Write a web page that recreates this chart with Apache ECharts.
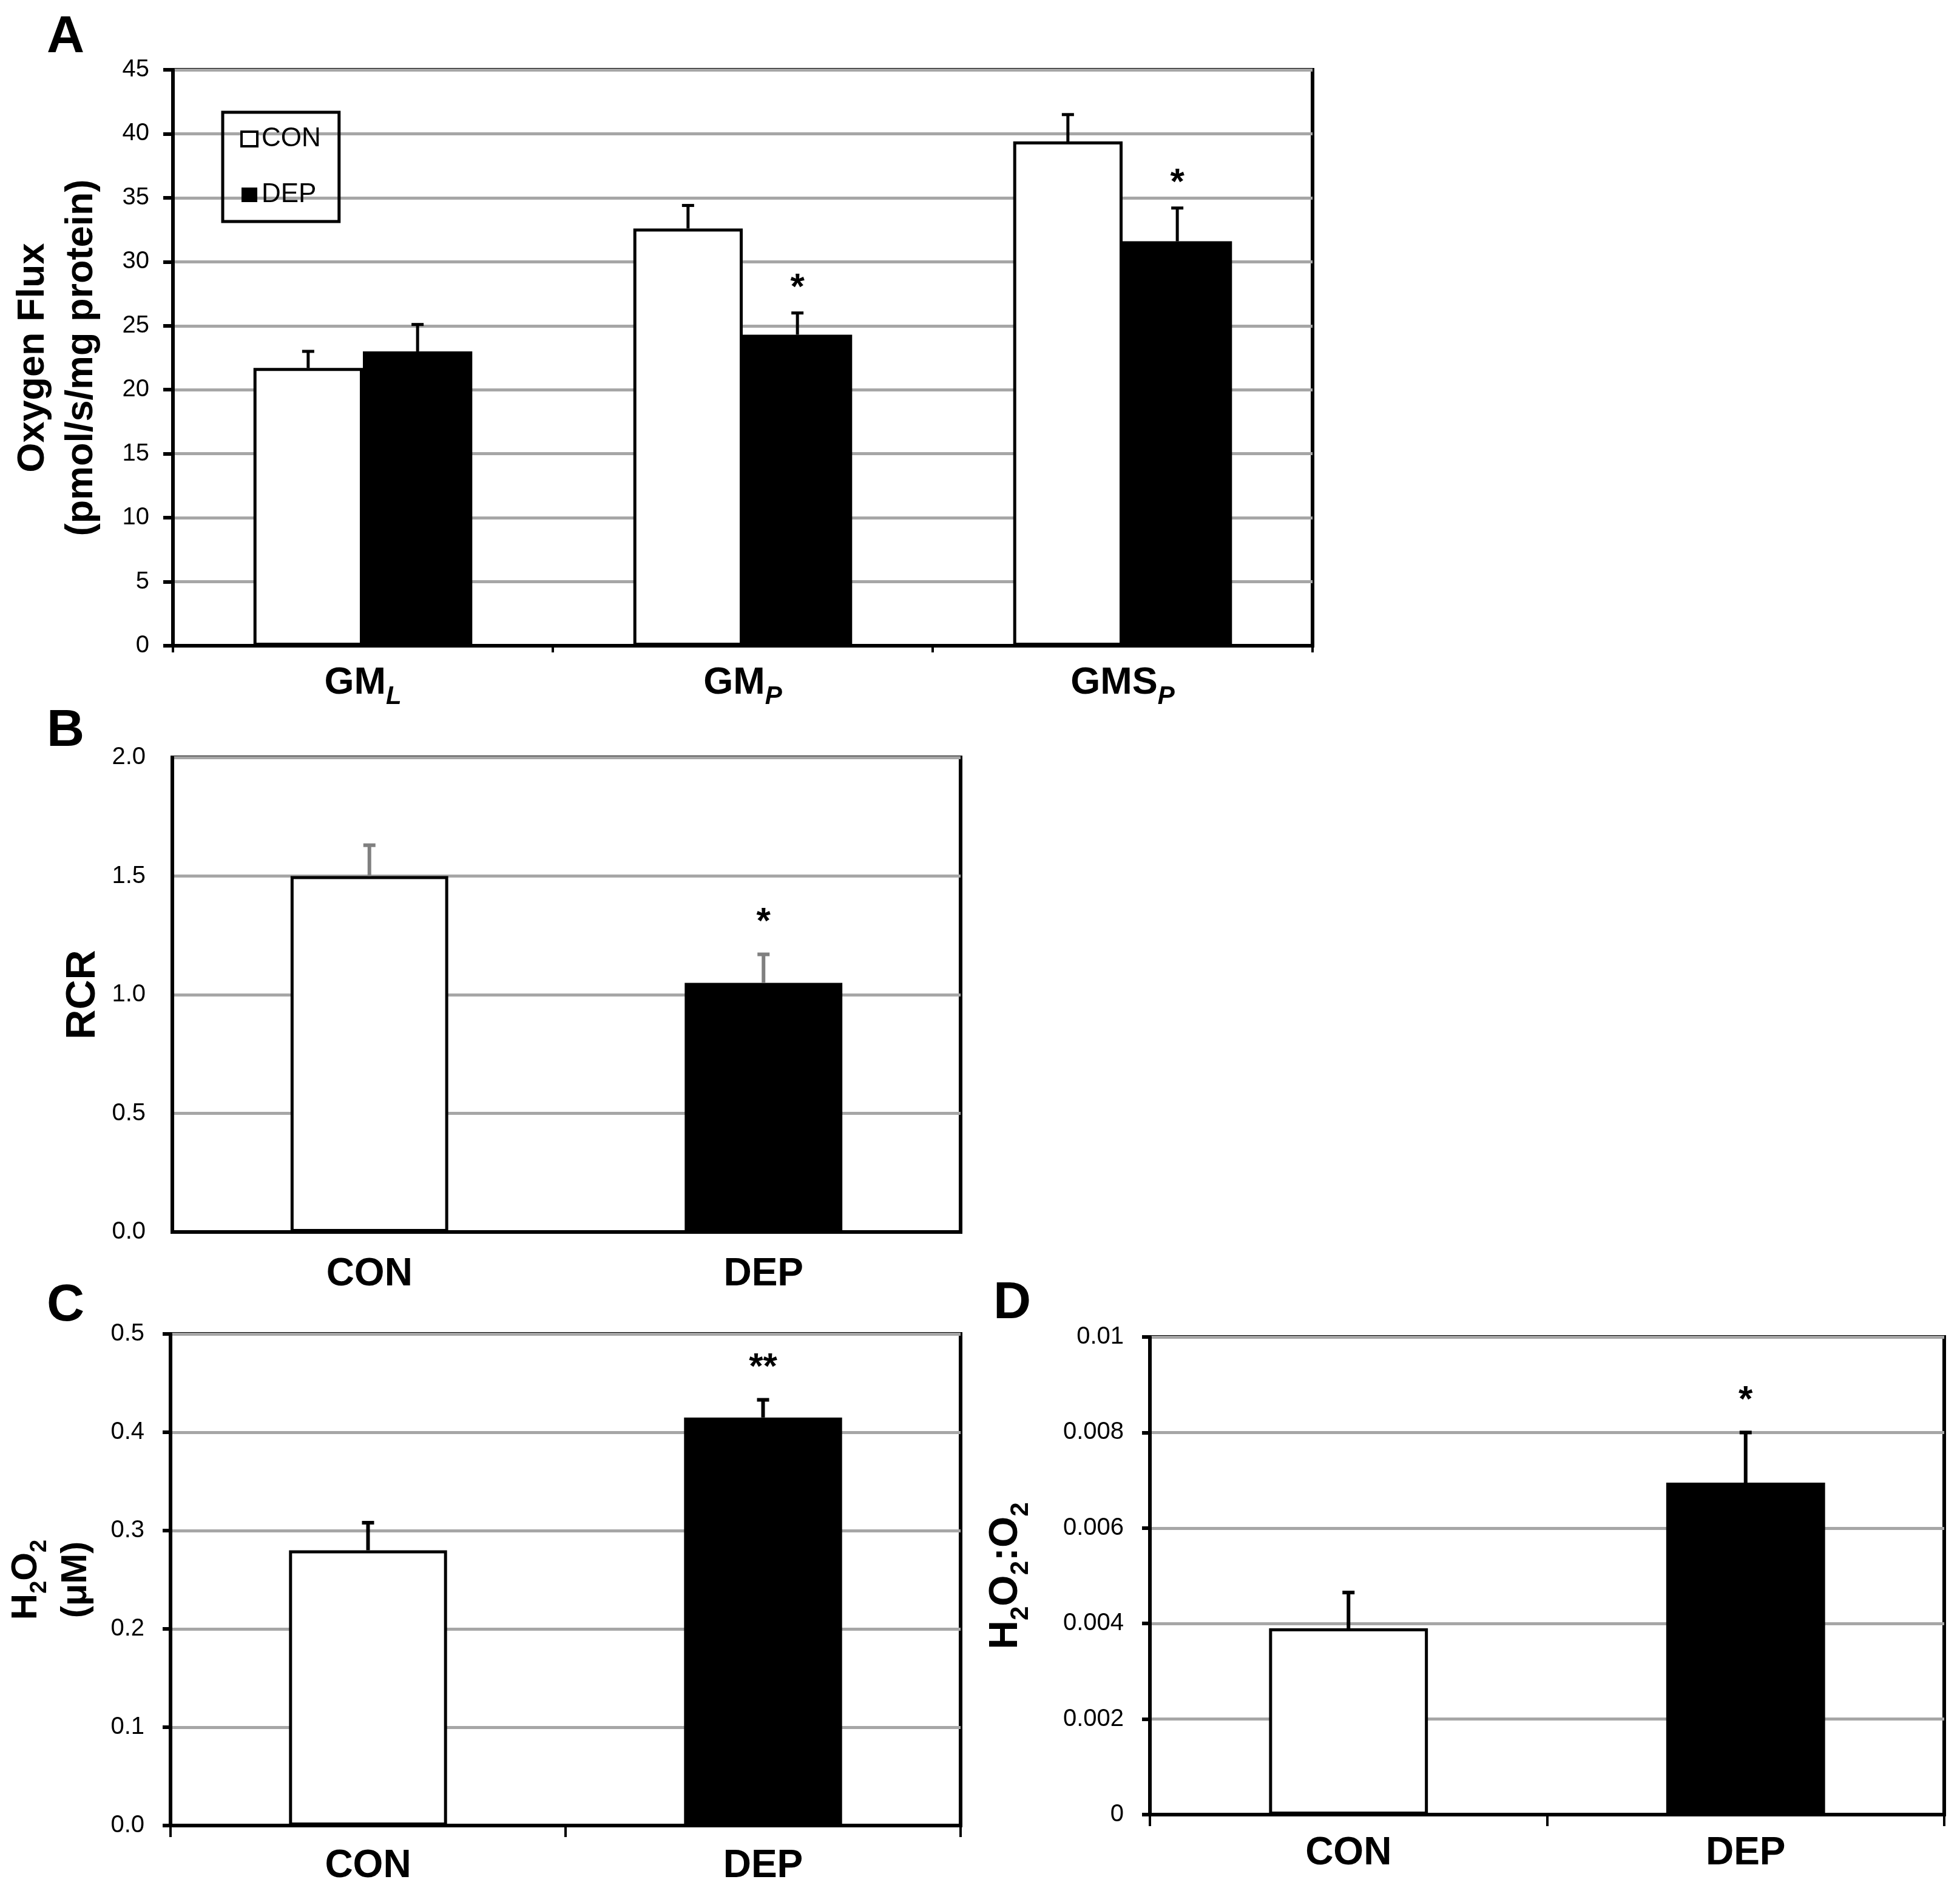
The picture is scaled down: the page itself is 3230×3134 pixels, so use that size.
<!DOCTYPE html>
<html>
<head>
<meta charset="utf-8">
<script src="https://cdn.jsdelivr.net/npm/echarts@6/dist/echarts.min.js"></script>
<style>
html, body { margin: 0; padding: 0; background: #fff; }
#main { width: 3230px; height: 3134px; }
</style>
</head>
<body>
<div id="main"></div>
<script>
// panel A - oxygen flux, two groups per substrate
var fluxCats = ['GM', 'GM', 'GMS'];
var fluxSubs = ['L', 'P', 'P'];
var fluxCon = [21.7, 32.6, 39.4];
var fluxConErr = [1.3, 1.8, 2.1];
var fluxDep = [23.0, 24.3, 31.6];
var fluxDepErr = [2.1, 1.7, 2.6];
var fluxConStars = ['', '', ''];
var fluxDepStars = ['', '*', '*'];

// panels B, C, D - CON vs DEP
var groups = ['CON', 'DEP'];
var rcr = [1.50, 1.05];
var rcrErr = [0.13, 0.12];
var rcrStars = ['', '*'];
var h2o2 = [0.280, 0.415];
var h2o2Err = [0.028, 0.018];
var h2o2Stars = ['', '**'];
var ratio = [0.0039, 0.00695];
var ratioErr = [0.00075, 0.00105];
var ratioStars = ['', '*'];

var FONT = 'Liberation Sans, Arial, sans-serif';
var fillCon = { color: '#fff', borderColor: '#000', borderWidth: 5 };
var fillDep = { color: '#000', borderColor: '#000', borderWidth: 0 };

var chart = echarts.init(document.getElementById('main'));

// 误差线 + 星号
function errBars(idx, means, errs, stars, offset, color, lw, starGap) {
    return {
        type: 'custom',
        xAxisIndex: idx,
        yAxisIndex: idx,
        z: 5,
        silent: true,
        data: means.map(function (m, i) { return [i, m, errs[i]]; }),
        renderItem: function (params, api) {
            var band = api.size([1, 0])[0];
            var base = api.coord([api.value(0), api.value(1)]);
            var top = api.coord([api.value(0), api.value(1) + api.value(2)]);
            var x = base[0] + offset * band;
            var kids = [
                { type: 'line', shape: { x1: x, y1: base[1], x2: x, y2: top[1] }, style: { stroke: color, lineWidth: lw } },
                { type: 'line', shape: { x1: x - 10, y1: top[1], x2: x + 10, y2: top[1] }, style: { stroke: color, lineWidth: lw } }
            ];
            var s = stars[params.dataIndex];
            if (s) {
                kids.push({
                    type: 'text', x: x, y: top[1] - starGap,
                    style: { text: s, fill: '#000', font: 'bold 60px ' + FONT, align: 'center', verticalAlign: 'middle' }
                });
            }
            return { type: 'group', children: kids };
        }
    };
}

function yAx(idx, min, max, step, fmt, tickLen, margin, name, gap, nameStyle) {
    return {
        type: 'value', gridIndex: idx, min: min, max: max, interval: step,
        axisLine: { show: true, lineStyle: { color: '#000', width: 6 } },
        axisTick: { show: tickLen > 0, inside: false, length: tickLen, lineStyle: { color: '#000', width: 6 } },
        axisLabel: { formatter: fmt, margin: margin, color: '#000', fontFamily: FONT, fontSize: 40 },
        splitLine: { show: true, lineStyle: { color: '#a6a6a6', width: 5 } },
        name: name, nameLocation: 'middle', nameRotate: 90, nameGap: gap,
        nameTextStyle: nameStyle
    };
}

function xAx(idx, data, tickLen, margin, label) {
    return {
        type: 'category', gridIndex: idx, data: data,
        axisLine: { show: true, lineStyle: { color: '#000', width: 6 } },
        axisTick: { show: tickLen > 0, interval: 0, length: tickLen, lineStyle: { color: '#000', width: 4 } },
        axisLabel: Object.assign({ margin: margin, color: '#000', fontFamily: FONT, fontWeight: 'bold', fontSize: 64, interval: 0 }, label || {}),
        splitLine: { show: false }
    };
}

function pairBar(idx, name, vals) {
    return {
        type: 'bar', name: name, xAxisIndex: idx, yAxisIndex: idx, barWidth: '40%',
        data: vals.map(function (v, i) { return { value: v, itemStyle: i === 0 ? fillCon : fillDep }; })
    };
}

var boldTitle = { color: '#000', fontFamily: FONT, fontWeight: 'bold', fontSize: 63, lineHeight: 80, align: 'center' };
var subRich = {
    b: { fontFamily: FONT, fontWeight: 'bold', fontSize: 60, padding: [0, 0, 12, 0], verticalAlign: 'top' },
    s: { fontFamily: FONT, fontWeight: 'bold', fontSize: 38, verticalAlign: 'bottom' },
    l: { fontFamily: FONT, fontWeight: 'bold', fontSize: 60, lineHeight: 80 }
};

var gridBox = { show: true, borderColor: '#000', borderWidth: 6, backgroundColor: 'transparent' };

chart.setOption({
    animation: false,
    backgroundColor: '#fff',
    title: [
        { text: 'A', left: 72, top: 14 },
        { text: 'B', left: 72, top: 1157 },
        { text: 'C', left: 72, top: 2104 },
        { text: 'D', left: 1632, top: 2100 }
    ].map(function (t) {
        t.textStyle = { color: '#000', fontFamily: FONT, fontWeight: 'bold', fontSize: 86 };
        return t;
    }),
    legend: {
        data: [
            { name: 'CON', itemStyle: { borderWidth: 4 } },
            { name: 'DEP' }
        ],
        orient: 'vertical', left: 367, top: 185,
        borderColor: '#000', borderWidth: 5, borderRadius: 0,
        padding: [22, 30, 22, 29], itemGap: 48,
        itemWidth: 26, itemHeight: 24, icon: 'rect',
        textStyle: { color: '#000', fontFamily: FONT, fontSize: 44, padding: [0, 0, 0, 2] }
    },
    grid: [
        Object.assign({ left: 285, top: 115, width: 1878, height: 949 }, gridBox),
        Object.assign({ left: 284, top: 1248, width: 1299, height: 782 }, gridBox),
        Object.assign({ left: 281, top: 2198, width: 1302, height: 810 }, gridBox),
        Object.assign({ left: 1895, top: 2203, width: 1309, height: 787 }, gridBox)
    ],
    xAxis: [
        xAx(0, fluxCats, 11, 30, {
            formatter: function (v, i) { return '{m|' + v + '}{s|' + fluxSubs[i] + '}'; },
            rich: {
                m: { fontFamily: FONT, fontWeight: 'bold', fontSize: 63, padding: [0, 0, 12, 0], verticalAlign: 'top' },
                s: { fontFamily: FONT, fontStyle: 'italic', fontSize: 42, verticalAlign: 'bottom' }
            }
        }),
        xAx(1, groups, 0, 38),
        xAx(2, groups, 19, 35),
        xAx(3, groups, 19, 32)
    ],
    yAxis: [
        yAx(0, 0, 45, 5, null, 16, 39, 'Oxygen Flux\n(pmol/s/mg protein)', 110, boldTitle),
        yAx(1, 0, 2, 0.5, function (v) { return v.toFixed(1); }, 0, 44, 'RCR', 113,
            { color: '#000', fontFamily: FONT, fontWeight: 'bold', fontSize: 68 }),
        yAx(2, 0, 0.5, 0.1, function (v) { return v.toFixed(1); }, 13, 43,
            '{b|H}{s|2}{b|O}{s|2}\n{l|(μM)}', 116, { color: '#000', rich: subRich }),
        yAx(3, 0, 0.01, 0.002, function (v) { return v === 0 ? '0' : String(+v.toFixed(3)); }, 13, 43,
            '{b|H}{s|2}{b|O}{s|2}{b|:O}{s|2}', 192, {
                color: '#000',
                rich: {
                    b: { fontFamily: FONT, fontWeight: 'bold', fontSize: 66, padding: [0, 0, 12, 0], verticalAlign: 'top' },
                    s: { fontFamily: FONT, fontWeight: 'bold', fontSize: 42, verticalAlign: 'bottom' }
                }
            })
    ],
    series: [
        {
            type: 'bar', name: 'CON', xAxisIndex: 0, yAxisIndex: 0,
            barWidth: '28.8%', barGap: '0%', itemStyle: fillCon, data: fluxCon
        },
        {
            type: 'bar', name: 'DEP', xAxisIndex: 0, yAxisIndex: 0,
            barWidth: '28.8%', barGap: '0%', itemStyle: fillDep, data: fluxDep
        },
        errBars(0, fluxCon, fluxConErr, fluxConStars, -0.144, '#000', 5, 40),
        errBars(0, fluxDep, fluxDepErr, fluxDepStars, 0.144, '#000', 5, 40),
        pairBar(1, 'RCR', rcr),
        errBars(1, rcr, rcrErr, rcrStars, 0, '#808080', 6, 52),
        pairBar(2, 'H2O2', h2o2),
        errBars(2, h2o2, h2o2Err, h2o2Stars, 0, '#000', 6, 52),
        pairBar(3, 'ratio', ratio),
        errBars(3, ratio, ratioErr, ratioStars, 0, '#000', 6, 52)
    ]
});
</script>
</body>
</html>
